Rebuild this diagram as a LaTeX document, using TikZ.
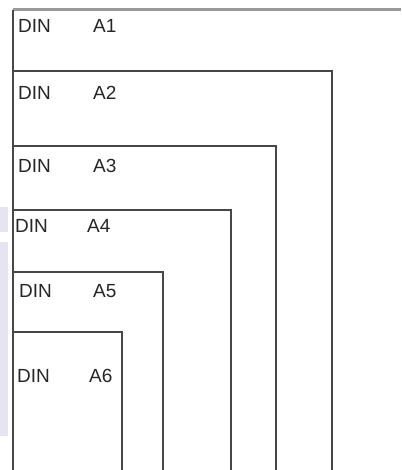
\documentclass[tikz,border=0pt]{standalone}
\usepackage{fontspec}
\setmainfont{Liberation Sans}
\definecolor{lav}{RGB}{230,228,241}
\begin{document}
\begin{tikzpicture}[x=1pt,y=-1pt,
  frame/.style={draw=black!72,line width=1.6pt},
  topline/.style={draw=black!40,line width=3pt},
  lbl/.style={anchor=base west,inner sep=0pt,font=\fontsize{19}{22}\selectfont,text=black!85}]
\useasboundingbox (0,0) rectangle (401,470);
\fill[white] (0,0) rectangle (401,470);
% lavender strip on the left
\fill[lav] (0,207) rectangle (8,232);
\fill[lav] (0,242) rectangle (8,436);
% top line (A1)
\draw[topline] (13,10) -- (401,10);
% left edge
\draw[frame] (13,10) -- (13,470);
% nested sheets
\draw[frame] (13,71) -- (332,71) -- (332,470);
\draw[frame] (13,146) -- (276,146) -- (276,470);
\draw[frame] (13,210) -- (231,210) -- (231,470);
\draw[frame] (13,272) -- (163,272) -- (163,470);
\draw[frame] (13,332) -- (122,332) -- (122,470);
% labels
\node[lbl] (d1) at (18,33) {DIN};  \node[lbl] (a1) at (93,33) {A1};
\node[lbl] (d2) at (18,100) {DIN}; \node[lbl] (a2) at (93,100) {A2};
\node[lbl] (d3) at (18,172) {DIN}; \node[lbl] (a3) at (93,172) {A3};
\node[lbl] (d4) at (15,232) {DIN}; \node[lbl] (a4) at (87,232) {A4};
\node[lbl] (d5) at (19,297) {DIN}; \node[lbl] (a5) at (93,297) {A5};
\node[lbl] (d6) at (17,382) {DIN}; \node[lbl] (a6) at (89,382) {A6};
\end{tikzpicture}
\end{document}
